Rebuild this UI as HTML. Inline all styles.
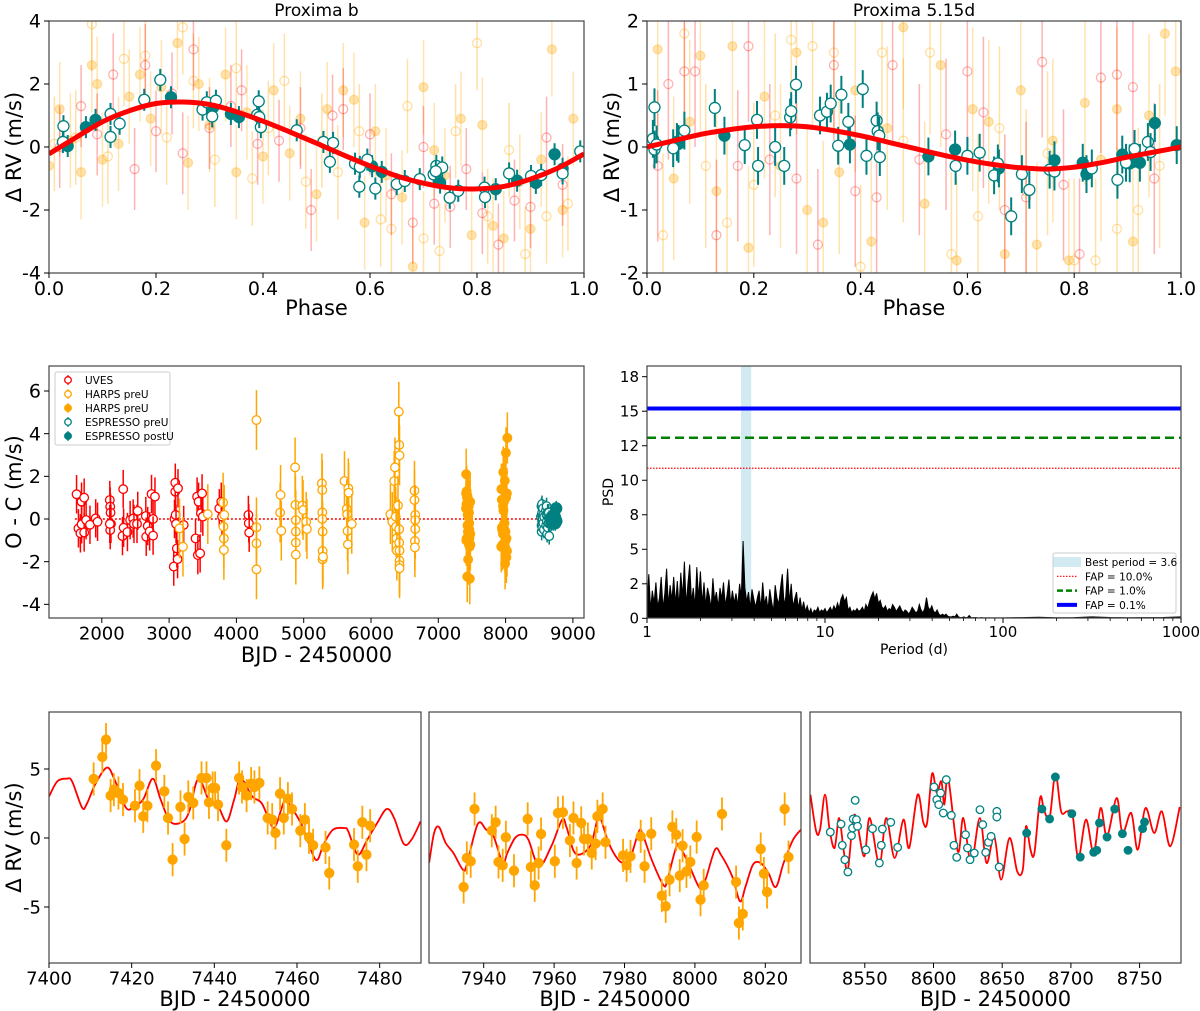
<!DOCTYPE html>
<html><head><meta charset="utf-8"><title>Proxima RV</title>
<style>
html,body{margin:0;padding:0;background:#fff;}
svg{display:block;font-family:"DejaVu Sans","Liberation Sans",sans-serif;}
</style></head>
<body>
<svg id="fig" xmlns="http://www.w3.org/2000/svg" width="1200" height="1011" viewBox="0 0 1200 1011">
<rect x="0" y="0" width="1200" height="1011" fill="#fff"/>
</svg>
<script>
// ---------- DATA ----------
// Proxima b phase-folded model curve (phase grid step 0.05)
const bCurve = [-0.22,0.3,0.8,1.15,1.38,1.43,1.35,1.12,0.82,0.48,0.12,-0.25,-0.6,-0.92,-1.15,-1.3,-1.33,-1.25,-1.02,-0.68,-0.22];
const bTealOpenPh = [0.027,0.026,0.115,0.115,0.132,0.178,0.208,0.287,0.295,0.305,0.312,0.389,0.392,0.396,0.393,0.463,0.513,0.531,0.525,0.572,0.58,0.581,0.595,0.61,0.65,0.665,0.693,0.719,0.724,0.735,0.723,0.749,0.765,0.814,0.815,0.86,0.901,0.92,0.96,0.993];
const bTealOpenV = [0.66,0.16,0.32,1.05,0.74,1.5,2.13,1.19,1.42,0.97,1.47,1.02,1.45,0.63,0.95,0.53,0.16,0.13,-0.47,-0.53,-1.26,-0.63,-0.4,-1.32,-1.18,-1.08,-1.02,-0.87,-0.6,-0.65,-0.77,-1.61,-1.39,-1.29,-1.59,-0.84,-0.92,-0.89,-0.84,-0.14];
const bTealFillPh = [0.035,0.069,0.087,0.228,0.307,0.34,0.355,0.604,0.622,0.731,0.835,0.875,0.91,0.945,0.96];
const bTealFillV = [0.03,0.63,0.86,1.58,1.26,1.05,0.95,-0.61,-0.79,-1.13,-1.34,-1.07,-1.14,-0.23,-0.69];
const bOrFillPh = [0.0,0.02,0.04,0.06,0.08,0.09,0.1,0.13,0.15,0.17,0.19,0.21,0.24,0.26,0.28,0.3,0.33,0.35,0.37,0.4,0.42,0.45,0.47,0.5,0.52,0.55,0.57,0.59,0.61,0.63,0.66,0.68,0.7,0.72,0.74,0.77,0.79,0.81,0.83,0.85,0.88,0.9,0.92,0.94,0.96,0.98];
const bOrFillV = [-0.6,1.2,0.2,-0.8,2.6,2.0,-0.4,0.1,1.6,2.3,0.9,1.9,3.3,-0.5,2.0,0.7,2.3,-0.8,1.1,-0.3,1.8,-0.2,0.9,-1.5,1.2,1.8,1.5,-2.4,0.5,-0.9,-1.6,-3.8,1.9,-0.1,-0.9,0.9,-2.8,0.7,-2.5,-2.9,-1.1,-2.6,-0.4,3.1,-2.0,0.9];
const bOrOpenPh = [0.01,0.05,0.08,0.11,0.14,0.18,0.22,0.25,0.27,0.31,0.35,0.38,0.41,0.44,0.48,0.51,0.54,0.58,0.62,0.64,0.67,0.7,0.73,0.76,0.8,0.82,0.86,0.89,0.93,0.97];
const bOrOpenV = [0.1,0.3,3.9,-0.3,2.8,2.9,0.3,3.8,2.1,-0.4,2.5,-1.0,0.6,2.1,-1.1,0.2,-0.8,0.5,-2.3,-2.6,1.3,-2.9,-3.3,0.5,3.3,-2.2,-0.1,-3.4,-2.2,-1.8];
const bPkOpenPh = [0.02,0.06,0.09,0.12,0.16,0.18,0.2,0.23,0.25,0.27,0.3,0.34,0.36,0.39,0.43,0.47,0.49,0.53,0.55,0.6,0.64,0.68,0.7,0.72,0.75,0.78,0.81,0.84,0.87,0.9,0.93,0.96];
const bPkOpenV = [0.0,1.3,0.4,2.3,-0.7,2.6,0.5,1.7,-0.2,3.1,0.6,1.3,1.8,0.1,0.2,0.6,-2.0,1.0,1.2,0.4,-1.5,-2.4,0.0,-1.8,-1.9,-0.7,-2.1,-3.1,-1.7,-1.9,0.3,-1.2];

// Proxima 5.15d
const cCurve = [0.0,0.1,0.2,0.27,0.32,0.34,0.32,0.26,0.18,0.08,-0.02,-0.12,-0.21,-0.28,-0.33,-0.35,-0.32,-0.25,-0.16,-0.08,0.0];
const cTealOpenPh = [0.014,0.011,0.014,0.018,0.049,0.07,0.127,0.183,0.208,0.206,0.24,0.257,0.268,0.27,0.279,0.324,0.337,0.344,0.358,0.364,0.377,0.404,0.411,0.43,0.432,0.435,0.436,0.578,0.6,0.623,0.65,0.657,0.682,0.702,0.716,0.754,0.763,0.833,0.881,0.897,0.913,0.938,0.943];
const cTealOpenV = [0.63,0.13,-0.04,0.04,-0.02,0.26,0.62,0.03,-0.3,0.43,0.0,-0.3,0.47,0.57,0.99,0.5,0.56,0.69,0.02,0.83,0.4,0.92,-0.14,0.42,0.25,0.18,-0.16,-0.3,-0.14,-0.09,-0.45,-0.26,-1.1,-0.43,-0.68,-0.36,-0.39,-0.34,-0.52,-0.25,-0.03,0.08,-0.08];
const cTealFillPh = [0.056,0.059,0.145,0.38,0.527,0.577,0.659,0.763,0.816,0.823,0.89,0.904,0.923,0.951,0.992];
const cTealFillV = [0.08,0.05,0.18,0.04,-0.15,-0.04,-0.34,-0.21,-0.25,-0.43,-0.12,-0.26,-0.25,0.38,0.03];
const cOrFillPh = [0.02,0.05,0.08,0.1,0.13,0.16,0.19,0.22,0.25,0.28,0.3,0.33,0.36,0.39,0.42,0.45,0.48,0.52,0.55,0.58,0.61,0.64,0.67,0.7,0.73,0.76,0.79,0.82,0.85,0.88,0.91,0.94,0.97,0.99];
const cOrFillV = [1.55,-0.5,0.4,1.45,-0.7,1.6,-1.6,0.8,-0.3,1.5,-1.0,-1.2,-0.4,0.9,-1.5,0.3,1.9,-0.9,1.3,-1.8,0.6,0.4,-1.7,0.9,-1.55,0.1,-1.8,0.7,-0.2,0.6,-1.5,0.5,1.8,1.2];
const cOrOpenPh = [0.03,0.07,0.11,0.15,0.2,0.24,0.27,0.31,0.35,0.4,0.44,0.48,0.53,0.57,0.62,0.66,0.71,0.75,0.8,0.84,0.88,0.92,0.96];
const cOrOpenV = [-1.4,1.8,-0.3,-1.2,-0.6,0.5,1.7,1.6,1.5,-1.9,1.5,0.1,1.5,-1.7,-1.1,0.3,-0.7,-0.1,-1.8,-1.8,-1.3,-1.0,-0.3];
const cPkOpenPh = [0.02,0.04,0.07,0.09,0.13,0.17,0.19,0.23,0.28,0.32,0.35,0.39,0.43,0.46,0.51,0.56,0.6,0.63,0.67,0.71,0.74,0.78,0.81,0.85,0.88,0.91,0.95];
const cPkOpenV = [-0.3,1.0,1.2,1.2,-1.4,-0.3,1.6,-0.2,-0.5,-1.55,1.3,-0.7,-0.8,1.3,-0.2,0.2,1.2,0.55,-1.0,-0.8,1.35,-0.6,-1.7,1.1,1.15,0.95,-0.5];

// O-C residuals vs time
const uvesT = [1625,1653,1682,1699,1700,1738,1738,1767,1824,1909,1937,2119,2125,2130,2136,2125,2119,2307,2318,2324,2381,2421,2466,2478,2523,2534,2654,2660,2682,2711,2739,2762,2762,2790,3069,3080,3092,3092,3097,3103,3115,3126,3132,3217,3393,3416,3427,3438,3461,3473,3490,3501,3746,3775,3786,4178,4184,4190];
const uvesV = [1.16,-0.44,-0.67,0.81,-0.25,1.0,-0.63,-0.05,-0.27,0.03,-0.13,0.89,0.58,0.3,-0.23,-0.52,-0.23,-0.8,1.4,-0.41,-0.61,-0.05,0.02,-0.23,-0.23,0.38,0.14,-0.83,-0.33,-0.58,1.17,0,-0.78,1.05,-2.23,0,1.28,1.7,0.19,-0.23,-1.38,-1.88,1.44,-0.28,-0.91,1.05,-1.69,0.81,-1.61,0.27,1.2,0.11,0.5,0.81,0.11,0.19,-0.2,-0.64];
const hOpenT = [3155,3206,3575,3803,3808,3814,3814,3820,4298,4298,4298,4298,4650,4656,4667,4872,4877,4883,4883,4883,4883,4980,4991,5037,5048,5270,5276,5276,5276,5281,5281,5281,5287,5606,5640,5646,5651,5657,5663,5668,5714,6288,6316,6345,6356,6367,6373,6379,6384,6401,6413,6419,6424,6419,6419,6424,6424,6424,6424,6646,6646,6658,6658,6658,6652,6652];
const hOpenV = [-0.44,-1.3,0.23,0.77,-0.36,-0.91,-1.45,0.19,4.64,-0.39,-1.14,-2.36,0.3,1.13,-0.55,2.42,0.66,-0.05,-0.59,-1.11,-1.67,0.63,0.42,-0.13,-0.47,1.67,1.36,0.31,0,-0.59,-1.5,-1.89,-1.77,1.78,0.47,0.22,-0.56,-1.19,1.44,1.23,-0.23,0.22,-0.13,1.78,2.42,0.11,-0.36,-0.91,-1.48,0.63,5.03,3.47,2.98,-0.48,-1.11,-1.48,-1.95,-2.16,-2.31,1.33,0.89,0.19,-0.05,-0.47,-1.03,-1.33];
const hFillT = [7411,7413,7414,7416,7418,7421,7423,7426,7428,7430,7432,7434,7437,7439,7440,7443,7446,7448,7450,7453,7455,7457,7459,7461,7463,7466,7468,7474,7475,7477,7935,7937,7943,7945,7948,7952,7955,7960,7962,7965,7968,7971,7974,7980,7985,7988,7991,7992,7994,7996,7998,8001,8005,8008,8012,8013,8019,8021,8026,7982];
const hFillV = [0.5,1.2,2.1,-1.0,0.7,1.3,-0.9,1.0,0.5,-2.7,1.1,-0.3,0.2,0.8,-0.6,-1.9,0.1,-0.4,0.9,0.6,-1.2,0.3,-0.2,-0.5,-0.9,-1.3,-2.8,0.8,-0.7,-1.2,-1.3,1.4,0.9,-0.4,-0.5,1.4,-1.2,-0.7,0.6,2.2,0.4,-0.5,0.8,-0.2,-0.5,1.8,-1.3,-2.1,1.0,-1.7,-0.6,-1.0,3.1,1.0,-1.8,-0.9,1.2,-1.5,3.8,-0.2];
const eOpenT = [8525,8533,8534,8536,8538,8541,8542,8543,8545,8551,8556,8561,8563,8569,8574,8600,8603,8607,8609,8613,8617,8624,8627,8634,8638,8642,8646,8648];
const eOpenV = [0.1,0.6,-0.3,-0.6,0.2,0.7,-0.1,0.3,-0.4,0.0,0.5,-0.2,0.2,-0.5,0.1,0.4,-0.3,0.2,0.6,-0.1,-0.7,0.3,-0.4,0.1,-0.2,0.3,0.0,-0.8];
const eFillT = [8668,8679,8685,8689,8701,8707,8717,8721,8726,8732,8738,8742,8752,8754];
const eFillV = [0.0,-0.2,0.1,0.0,-0.1,-0.2,-0.1,0.2,-0.1,0.1,-0.2,0.0,0.5,-0.1];

// Periodogram: PSD sampled at log10(P) = 0.00..1.99 step 0.01, then 2.0..3.0 step 0.1
const psdA = [1.2,3.2,0.6,2.0,1.1,2.6,0.8,1.5,3.0,0.7,1.8,3.6,0.9,2.4,1.3,3.0,1.0,2.7,0.8,3.3,1.5,4.1,0.9,2.5,3.9,1.2,2.2,0.8,3.7,1.4,3.4,1.0,2.6,0.9,2.2,1.6,0.7,2.9,1.3,1.9,0.8,2.2,1.4,2.6,0.9,1.7,2.8,1.0,2.0,1.1,1.8,0.9,2.5,1.5,5.6,2.2,1.2,1.9,0.7,2.1,1.4,0.8,1.5,2.0,0.7,2.6,1.0,1.6,0.6,2.1,1.2,0.5,2.4,1.5,1.0,2.2,3.2,0.9,1.6,3.6,1.1,2.5,0.8,1.4,1.9,0.7,1.5,0.6,1.2,0.5,0.9,0.4,0.7,0.3,0.6,0.5,0.8,0.4,0.6,0.5,0.7,0.4,0.6,0.8,0.5,0.9,0.6,1.1,0.7,1.4,1.7,1.2,1.5,0.6,0.8,0.4,0.6,0.5,0.7,0.5,0.6,0.8,0.5,1.0,0.7,1.2,1.6,1.9,1.4,1.8,1.1,1.3,0.8,0.7,0.9,0.5,0.7,0.6,1.0,0.8,0.5,0.7,0.9,0.6,0.4,0.6,0.5,0.3,0.5,0.8,0.6,0.4,0.5,1.0,0.6,0.4,0.7,1.5,0.8,0.6,0.9,0.5,0.4,0.6,0.3,0.2,0.3,0.2,0.3,0.15,0.1,0.1,0.15,0.1,0.3,0.1,0.05,0.05,0.1,0.05,0.05,0.2,0.05,0.05,0.05,0.05,0.03,0.03,0.05,0.03,0.03,0.03,0.04,0.03,0.03,0.03,0.03,0.03,0.03,0.03];
const psdB = [0.03,0.05,0.08,0.04,0.05,0.1,0.06,0.04,0.05,0.06,0.1];
const bestPeriod = [3.37,3.85];
const fapLevels = [10.87,13.08,15.2];
const psdTicks = [0,2.5,5,7.5,10,12.5,15,17.5];
const psdTickLabels = ["0","2","5","8","10","12","15","18"];

// Time-series zoom panels
const aCurveT = [7400,7402,7404.3,7405.6,7408,7409.2,7411.2,7414,7415.9,7418.6,7420.5,7422.8,7425.1,7427,7429.3,7432.1,7433.9,7436.1,7438.6,7440.9,7443,7444.8,7446.4,7449.2,7451.5,7453.9,7455,7457.1,7458.5,7461.3,7464.5,7466.4,7468.7,7471.5,7472.4,7474.7,7477,7479.4,7481.7,7483.5,7485.8,7487.7,7489.9];
const aCurveV = [3.0,4.1,4.3,4.1,2.2,2.5,3.9,5.1,4.2,2.2,2.25,2.8,4.3,2.8,1.2,1.14,1.9,4.3,2.8,2.3,1.2,2.8,4.3,3.0,2.5,0.85,0.97,2.8,2.3,0.85,-1.57,-0.48,0.6,0.72,0.48,-1.2,-0.12,1.09,2.1,1.45,-0.41,-0.12,1.2];
const aT = [7410.8,7412.9,7413.8,7414.9,7415.7,7416.8,7417.9,7420.8,7421.9,7422.8,7423.8,7425.9,7427.9,7428.8,7429.9,7431.8,7432.8,7433.7,7434.9,7436.9,7438.1,7438.7,7439.6,7440.2,7440.9,7442.9,7446,7446.7,7447.8,7448.9,7449.7,7450.9,7452.9,7454,7454.8,7455.9,7456.8,7457.8,7458.8,7460.8,7461.9,7462.9,7463.9,7466.9,7467.8,7473.8,7474.7,7475.8,7476.8,7477.7];
const aV = [4.28,5.87,7.13,3.07,3.5,3.26,2.78,2.34,3.79,1.57,2.34,5.24,3.38,1.45,-1.57,2.25,-0.07,2.97,2.54,4.35,4.35,2.58,3.62,3.62,2.42,-0.53,4.35,3.7,3.07,3.94,3.7,3.99,1.45,1.33,0.36,3.21,1.45,2.85,2.1,0.53,1.33,0.05,-0.53,-0.68,-2.54,-0.48,-2.05,1.14,-1.21,0.89];
const bpCurveT = [7924.5,7925.9,7927.3,7929.2,7931.4,7934.1,7935.2,7938.3,7940.7,7942.8,7945.4,7946.7,7948.9,7951,7952.7,7955.7,7959.2,7962.3,7963.6,7966.1,7970.2,7972.3,7973.3,7975.5,7978.2,7980,7981.4,7984.1,7985.2,7987.9,7991.1,7992.2,7994.9,7996.5,7998.7,8001.4,8003,8005.7,8007.4,8010.6,8012.8,8014.4,8016.5,8018.7,8020.9,8023,8025.2,8027.9,8030.1];
const bpCurveV = [-1.8,0.36,0.8,-0.36,-1.09,-2.3,-1.93,1.01,0.6,0.12,-1.81,-1.09,0,0.24,-0.12,-2.05,-0.6,1.33,0.72,-1.14,-0.6,1.33,1.33,-0.36,-1.57,-1.81,-1.69,0.48,0.24,-1.69,-3.43,-3.02,-0.53,-0.97,-2.17,-3.62,-3.02,-0.85,-1.21,-2.78,-4.59,-3.5,-1.93,-1.81,-2.54,-3.55,-1.81,-0.12,0.6];
const bpT = [7934.3,7935.2,7936.3,7937.4,7942.3,7943.4,7944.2,7945.4,7946.3,7948.6,7952.5,7953.4,7954.5,7955.6,7956.3,7960.2,7961.1,7962.5,7964.5,7965.5,7966.4,7967.7,7968.5,7969.6,7970.7,7971.8,7972.3,7973.8,7974.6,7979.6,7980.6,7981.7,7984.6,7985.7,7987.6,7990.6,7991.7,7992.8,7993.6,7994.7,7995.7,7996.5,7997.6,7998.7,8000.5,8001.6,8002.5,8007.7,8011.7,8012.5,8013.6,8018.7,8019.6,8020.5,8025.5,8026.6];
const bpV = [-3.55,-1.45,-1.69,2.1,0.53,1.14,-1.74,-1.98,0.05,-2.37,1.38,-2.1,-3.43,-1.81,0.29,-1.69,1.81,1.86,-0.17,1.45,-1.81,1.09,-0.07,-0.07,-1.09,-0.41,1.57,2.1,-0.31,-1.26,-1.98,-1.33,0.12,-2.05,0.31,-4.18,-4.95,-3.02,0.8,0.24,-2.73,-0.56,-2.42,-1.74,0.07,-4.47,-3.43,1.74,-3.19,-6.16,-5.5,-0.8,-2.58,-3.91,2.1,-1.38];
const ccCurveT = [8510.4,8514.6,8517.4,8521,8524.4,8528,8531.3,8534.7,8537.7,8542.5,8549.4,8553.6,8560.6,8565.6,8571.7,8578.1,8582.3,8588.4,8592.6,8595.4,8599,8602.4,8605.7,8607.9,8610.7,8617.7,8621.7,8627.4,8633.7,8638.6,8644.2,8649.2,8655.3,8660.9,8665,8667.3,8670.6,8673.4,8677.6,8680.4,8684.5,8688.7,8692.9,8697.1,8701.2,8705.4,8711,8716.6,8721.6,8726.3,8733.3,8737.5,8743.9,8748.6,8754.2,8760.6,8766.2,8772.3,8779.2];
const ccCurveV = [3.14,0.48,0.6,3.14,0.6,-0.72,1.45,-0.97,-2.29,1.69,-1.33,1.45,-1.93,1.45,-1.45,1.33,-0.72,3.14,1.14,1.14,4.66,3.26,4.11,2.42,4.35,-0.97,1.45,-1.81,1.45,-1.81,0.12,-3.02,0,-2.42,-2.29,0.85,-0.85,-1.09,2.9,2.05,1.45,4.66,1.93,1.93,1.69,-1.45,1.33,-1.09,2.17,0.12,2.9,0.36,1.81,-0.85,2.17,0.36,1.93,-0.6,2.25];
const ccOpenT = [8524.9,8532.7,8533.6,8535.5,8537.7,8540.3,8541.1,8541.6,8543,8543.9,8544.7,8550.8,8555.6,8560.6,8562,8562.8,8568.9,8573.9,8600.4,8602.4,8603.8,8605.2,8607.1,8609.3,8613,8614.9,8616.9,8623.3,8624.7,8626.6,8629.7,8633.8,8635.8,8638,8640,8641.9,8646.1,8646.1,8647.8];
const ccOpenV = [0.43,1.01,-0.53,-1.57,-2.46,0.17,0.72,1.38,2.73,1.33,0.85,-0.85,0.68,-1.81,-0.53,0.65,1.14,-0.68,3.7,2.78,2.42,3.26,1.81,4.23,1.64,-0.53,-1.4,0.24,-0.72,-1.57,-1.09,2.05,0.97,-1.04,-0.31,0.12,1.93,1.52,-2.1];
const ccFillT = [8667.8,8678.9,8684.5,8688.7,8700.7,8706.8,8716.6,8718.8,8720.8,8726.3,8731.9,8737.5,8741.6,8752.2,8753.6];
const ccFillV = [0.36,2.1,1.38,4.42,1.76,-1.38,-1.04,-0.89,1.09,0.07,2.1,0.31,-0.89,0.68,1.16];

// ---------- DRAWING ----------
const NS = "http://www.w3.org/2000/svg";
const svg = document.getElementById('fig');
const TEAL = "#008080", ORANGE = "#ffa500", RED = "#ff0000";
function mk(tag, attrs, parent) {
  const e = document.createElementNS(NS, tag);
  for (const k in attrs) e.setAttribute(k, attrs[k]);
  (parent || svg).appendChild(e);
  return e;
}
function lin(d0, d1, p0, p1) { return v => p0 + (v - d0) / (d1 - d0) * (p1 - p0); }
function smoothPath(pts) {
  let d = "M" + pts[0][0].toFixed(1) + "," + pts[0][1].toFixed(1);
  for (let i = 0; i < pts.length - 1; i++) {
    const p0 = pts[Math.max(0, i - 1)], p1 = pts[i], p2 = pts[i + 1], p3 = pts[Math.min(pts.length - 1, i + 2)];
    const c1x = p1[0] + (p2[0] - p0[0]) / 6, c1y = p1[1] + (p2[1] - p0[1]) / 6;
    const c2x = p2[0] - (p3[0] - p1[0]) / 6, c2y = p2[1] - (p3[1] - p1[1]) / 6;
    d += "C" + c1x.toFixed(1) + "," + c1y.toFixed(1) + " " + c2x.toFixed(1) + "," + c2y.toFixed(1) + " " + p2[0].toFixed(1) + "," + p2[1].toFixed(1);
  }
  return d;
}
function clip(id, x0, y0, x1, y1) {
  const c = mk('clipPath', { id: id });
  const r = mk('rect', { x: x0, y: y0, width: x1 - x0, height: y1 - y0 }, c);
  
  
}
function frame(P, name) {
  const r = mk('rect', { x: P.x0, y: P.y0, width: P.x1 - P.x0, height: P.y1 - P.y0, fill: 'none', stroke: '#444', 'stroke-width': 1.2 });
  
  
}
function text(x, y, s, size, anchor, name, rot) {
  const t = mk('text', { x: x, y: y, 'font-size': size, 'text-anchor': anchor || 'middle', fill: '#000' });
  if (rot) t.setAttribute('transform', 'rotate(-90 ' + x + ' ' + y + ')');
  t.textContent = s;
  
  
  return t;
}
function xticks(P, sx, vals, labels, size, name) {
  vals.forEach((v, i) => {
    const x = sx(v);
    const l = mk('line', { x1: x, x2: x, y1: P.y1, y2: P.y1 + 5, stroke: '#000', 'stroke-width': 1 });
    
    
    if (labels) text(x, P.y1 + 6 + size * 0.85, labels[i], size, 'middle', name + '-tick-label');
  });
}
function yticks(P, sy, vals, labels, size, name) {
  vals.forEach((v, i) => {
    const y = sy(v);
    const l = mk('line', { x1: P.x0 - 5, x2: P.x0, y1: y, y2: y, stroke: '#000', 'stroke-width': 1 });
    
    
    if (labels) text(P.x0 - 8, y + size * 0.35, labels[i], size, 'end', name + '-tick-label');
  });
}
function point(g, x, y, errPx, color, filled, r, op, sw) {
  const ln = mk('line', { x1: x, x2: x, y1: y - errPx, y2: y + errPx, stroke: color, 'stroke-width': sw || 1.5, 'stroke-opacity': op }, g);
  
  
  const c = mk('circle', { cx: x, cy: y, r: r, fill: filled ? color : '#fff', 'fill-opacity': filled ? op : (op < 1 ? 0 : 1), stroke: color, 'stroke-opacity': op, 'stroke-width': 1.3 }, g);
  
  
}
function series(P, sx, sy, xs, ys, err, color, filled, r, op, name, sw) {
  const g = mk('g', { 'clip-path': 'url(#' + P.id + ')' });
  
  
  const ep = Math.abs(sy(err) - sy(0));
  xs.forEach((x, i) => point(g, sx(x), sy(ys[i]), ep, color, filled, r, op, sw));
}
function curve(P, sx, sy, xs, ys, color, w, name) {
  const pts = xs.map((x, i) => [sx(x), sy(ys[i])]);
  const p = mk('path', { d: smoothPath(pts), fill: 'none', stroke: color, 'stroke-width': w, 'clip-path': 'url(#' + P.id + ')', 'stroke-linejoin': 'round' });
  
  
}
const phaseGrid = bCurve.map((_, i) => i * 0.05);

// ---- Panel 1: Proxima b ----
(function () {
  const P = { id: 'c1', x0: 49, x1: 584, y0: 21, y1: 273 };
  clip(P.id, P.x0, P.y0, P.x1, P.y1);
  const sx = lin(0, 1, P.x0, P.x1), sy = lin(-4, 4, P.y1, P.y0);
  series(P, sx, sy, bOrFillPh, bOrFillV, 1.5, ORANGE, true, 4.5, 0.3, 'harps-postu-faint');
  series(P, sx, sy, bOrOpenPh, bOrOpenV, 1.5, ORANGE, false, 4.5, 0.35, 'harps-preu-faint');
  series(P, sx, sy, bPkOpenPh, bPkOpenV, 1.3, RED, false, 4.5, 0.3, 'uves-faint');
  series(P, sx, sy, bTealFillPh, bTealFillV, 0.35, TEAL, true, 5.5, 1, 'espresso-postu', 2);
  series(P, sx, sy, bTealOpenPh, bTealOpenV, 0.35, TEAL, false, 5.5, 1, 'espresso-preu', 2);
  curve(P, sx, sy, phaseGrid, bCurve, RED, 5, 'model-curve-b');
  frame(P, 'panel-proxima-b');
  xticks(P, sx, [0, 0.2, 0.4, 0.6, 0.8, 1.0], ["0.0", "0.2", "0.4", "0.6", "0.8", "1.0"], 19, 'x-axis-b');
  yticks(P, sy, [-4, -2, 0, 2, 4], ["-4", "-2", "0", "2", "4"], 19, 'y-axis-b');
  text((P.x0 + P.x1) / 2, 16, 'Proxima b', 17, 'middle', 'title-proxima-b');
  text((P.x0 + P.x1) / 2, 315, 'Phase', 21, 'middle', 'x-axis-title-b');
  text(21, (P.y0 + P.y1) / 2, 'Δ RV (m/s)', 21, 'middle', 'y-axis-title-b', true);
})();

// ---- Panel 2: Proxima 5.15d ----
(function () {
  const P = { id: 'c2', x0: 647, x1: 1181, y0: 21, y1: 273 };
  clip(P.id, P.x0, P.y0, P.x1, P.y1);
  const sx = lin(0, 1, P.x0, P.x1), sy = lin(-2, 2, P.y1, P.y0);
  series(P, sx, sy, cOrFillPh, cOrFillV, 1.3, ORANGE, true, 4.5, 0.3, 'harps-postu-faint');
  series(P, sx, sy, cOrOpenPh, cOrOpenV, 1.3, ORANGE, false, 4.5, 0.35, 'harps-preu-faint');
  series(P, sx, sy, cPkOpenPh, cPkOpenV, 1.2, RED, false, 4.5, 0.3, 'uves-faint');
  series(P, sx, sy, cTealFillPh, cTealFillV, 0.3, TEAL, true, 5.5, 1, 'espresso-postu', 2);
  series(P, sx, sy, cTealOpenPh, cTealOpenV, 0.3, TEAL, false, 5.5, 1, 'espresso-preu', 2);
  curve(P, sx, sy, phaseGrid, cCurve, RED, 5, 'model-curve-515d');
  frame(P, 'panel-proxima-515d');
  xticks(P, sx, [0, 0.2, 0.4, 0.6, 0.8, 1.0], ["0.0", "0.2", "0.4", "0.6", "0.8", "1.0"], 19, 'x-axis-515d');
  yticks(P, sy, [-2, -1, 0, 1, 2], ["-2", "-1", "0", "1", "2"], 19, 'y-axis-515d');
  text((P.x0 + P.x1) / 2, 16, 'Proxima 5.15d', 17, 'middle', 'title-proxima-515d');
  text((P.x0 + P.x1) / 2, 315, 'Phase', 21, 'middle', 'x-axis-title-515d');
  text(619, (P.y0 + P.y1) / 2, 'Δ RV (m/s)', 21, 'middle', 'y-axis-title-515d', true);
})();

// ---- Panel 3: O-C ----
(function () {
  const P = { id: 'c3', x0: 49, x1: 584, y0: 366, y1: 618 };
  clip(P.id, P.x0, P.y0, P.x1, P.y1);
  const sx = lin(2000, 9000, 101.8, 572.9), sy = lin(0, 6, 519, 391);
  const dl = mk('line', { x1: sx(1600), x2: sx(8600), y1: sy(0), y2: sy(0), stroke: RED, 'stroke-width': 1.5, 'stroke-dasharray': '2,2' });
  
  
  series(P, sx, sy, uvesT, uvesV, 0.9, RED, false, 4.3, 1, 'uves-residuals');
  series(P, sx, sy, hOpenT, hOpenV, 1.4, ORANGE, false, 4.3, 1, 'harps-preu-residuals');
  series(P, sx, sy, hFillT, hFillV, 1.2, ORANGE, true, 4.3, 1, 'harps-postu-residuals');
  series(P, sx, sy, eOpenT, eOpenV, 0.4, TEAL, false, 4.3, 1, 'espresso-preu-residuals');
  series(P, sx, sy, eFillT, eFillV, 0.35, TEAL, true, 5.5, 1, 'espresso-postu-residuals');
  frame(P, 'panel-oc');
  xticks(P, sx, [2000, 3000, 4000, 5000, 6000, 7000, 8000, 9000], ["2000", "3000", "4000", "5000", "6000", "7000", "8000", "9000"], 18, 'x-axis-oc');
  yticks(P, sy, [-4, -2, 0, 2, 4, 6], ["-4", "-2", "0", "2", "4", "6"], 19, 'y-axis-oc');
  text((P.x0 + P.x1) / 2, 662, 'BJD - 2450000', 21, 'middle', 'x-axis-title-oc');
  text(21, (P.y0 + P.y1) / 2, 'O - C (m/s)', 21, 'middle', 'y-axis-title-oc', true);
  // legend
  const lg = mk('g', {});
  
  
  const lb = mk('rect', { x: 55, y: 372, width: 115, height: 73, fill: '#fff', stroke: '#ccc', rx: 2 }, lg);
  
  
  const ents = [['UVES', RED, false], ['HARPS preU', ORANGE, false], ['HARPS preU', ORANGE, true], ['ESPRESSO preU', TEAL, false], ['ESPRESSO postU', TEAL, true]];
  ents.forEach((e, i) => {
    const y = 380 + i * 14;
    point(lg, 68, y, 5, e[1], e[2], 3.3, 1, 1.2);
    const t = mk('text', { x: 85, y: y + 4, 'font-size': 10.5, fill: '#000' }, lg);
    t.textContent = e[0];
    
    
  });
})();

// ---- Panel 4: periodogram ----
(function () {
  const P = { id: 'c4', x0: 647, x1: 1181, y0: 366, y1: 618 };
  clip(P.id, P.x0, P.y0, P.x1, P.y1);
  const lx = lin(0, 3, P.x0, P.x1);
  const sx = p => lx(Math.log10(p));
  const sy = lin(0, 17.5, 618.3, 376.7);
  const band = mk('rect', { x: sx(bestPeriod[0]), y: P.y0, width: sx(bestPeriod[1]) - sx(bestPeriod[0]), height: P.y1 - P.y0, fill: '#add8e6', 'fill-opacity': 0.55 });
  
  
  let pts = [];
  psdA.forEach((v, i) => pts.push([lx(i * 0.01), sy(v)]));
  psdB.forEach((v, i) => pts.push([lx(2 + i * 0.1), sy(v)]));
  const poly = mk('polygon', { points: pts.map(p => p[0].toFixed(1) + ',' + p[1].toFixed(1)).join(' ') + ' ' + P.x1 + ',' + sy(0) + ' ' + P.x0 + ',' + sy(0), fill: '#000', stroke: '#000', 'stroke-width': 1, 'clip-path': 'url(#c4)' });
  
  
  const styles = [[RED, 1.2, '1.5,1.5', 'fap-10-line'], ['#008000', 2.5, '9,5', 'fap-1-line'], ['#0000ff', 4, '', 'fap-01-line']];
  fapLevels.forEach((v, i) => {
    const l = mk('line', { x1: P.x0, x2: P.x1, y1: sy(v), y2: sy(v), stroke: styles[i][0], 'stroke-width': styles[i][1], 'stroke-dasharray': styles[i][2] });
    
    
  });
  frame(P, 'panel-periodogram');
  xticks(P, sx, [1, 10, 100, 1000], ["1", "10", "100", "1000"], 15, 'x-axis-psd');
  [2,3,4,5,6,7,8,9,20,30,40,50,60,70,80,90,200,300,400,500,600,700,800,900].forEach(v => {
    const l = mk('line', { x1: sx(v), x2: sx(v), y1: P.y1, y2: P.y1 + 3, stroke: '#000', 'stroke-width': 0.8 });
    
    
  });
  yticks(P, sy, psdTicks, psdTickLabels, 15, 'y-axis-psd');
  text((P.x0 + P.x1) / 2, 654, 'Period (d)', 14, 'middle', 'x-axis-title-psd');
  text(613, (P.y0 + P.y1) / 2, 'PSD', 14, 'middle', 'y-axis-title-psd', true);
  const lg = mk('g', {});
  
  
  const lb = mk('rect', { x: 1053, y: 553, width: 123, height: 60, fill: '#fff', stroke: '#ccc', rx: 2 }, lg);
  
  
  const sw = mk('rect', { x: 1053, y: 557, width: 28, height: 10, fill: '#add8e6', 'fill-opacity': 0.55 }, lg);
  
  
  const labs = ['Best period =  3.6', 'FAP = 10.0%', 'FAP =  1.0%', 'FAP =  0.1%'];
  labs.forEach((s, i) => {
    const y = 562 + i * 14.3;
    if (i > 0) {
      const l = mk('line', { x1: 1057, x2: 1077, y1: y, y2: y, stroke: styles[i - 1][0], 'stroke-width': styles[i - 1][1], 'stroke-dasharray': i === 2 ? '6,3' : styles[i - 1][2] }, lg);
      
      
    }
    const t = mk('text', { x: 1085, y: y + 4, 'font-size': 10.5, fill: '#000' }, lg);
    t.textContent = s;
    
    
  });
})();

// ---- Bottom panels ----
const ySh = lin(-5, 5, 907, 769);
(function () {
  const P = { id: 'c5', x0: 49, x1: 421, y0: 712, y1: 963 };
  clip(P.id, P.x0, P.y0, P.x1, P.y1);
  const sx = lin(7400, 7490, P.x0, P.x1);
  curve(P, sx, ySh, aCurveT, aCurveV, RED, 1.8, 'model-curve-2016');
  series(P, sx, ySh, aT, aV, 1.2, ORANGE, true, 4.5, 1, 'harps-2016-points', 1.8);
  frame(P, 'panel-2016');
  xticks(P, sx, [7400, 7420, 7440, 7460, 7480], ["7400", "7420", "7440", "7460", "7480"], 18, 'x-axis-2016');
  yticks(P, ySh, [-5, 0, 5], ["-5", "0", "5"], 18, 'y-axis-2016');
  text((P.x0 + P.x1) / 2, 1006, 'BJD - 2450000', 21, 'middle', 'x-axis-title-2016');
  text(21, (P.y0 + P.y1) / 2, 'Δ RV (m/s)', 21, 'middle', 'y-axis-title-bottom', true);
})();
(function () {
  const P = { id: 'c6', x0: 429, x1: 801, y0: 712, y1: 963 };
  clip(P.id, P.x0, P.y0, P.x1, P.y1);
  const sx = lin(7940, 8020, 483.7, 765.3);
  curve(P, sx, ySh, bpCurveT, bpCurveV, RED, 1.8, 'model-curve-2017');
  series(P, sx, ySh, bpT, bpV, 1.2, ORANGE, true, 4.5, 1, 'harps-2017-points', 1.8);
  frame(P, 'panel-2017');
  xticks(P, sx, [7940, 7960, 7980, 8000, 8020], ["7940", "7960", "7980", "8000", "8020"], 18, 'x-axis-2017');
  text((P.x0 + P.x1) / 2, 1006, 'BJD - 2450000', 21, 'middle', 'x-axis-title-2017');
})();
(function () {
  const P = { id: 'c7', x0: 810, x1: 1181, y0: 712, y1: 963 };
  clip(P.id, P.x0, P.y0, P.x1, P.y1);
  const sx = lin(8550, 8750, 864.8, 1139.6);
  curve(P, sx, ySh, ccCurveT, ccCurveV, RED, 1.8, 'model-curve-2019');
  series(P, sx, ySh, ccOpenT, ccOpenV, 0.3, TEAL, false, 3.8, 1, 'espresso-preu-points', 1.3);
  series(P, sx, ySh, ccFillT, ccFillV, 0.3, TEAL, true, 3.8, 1, 'espresso-postu-points', 1.3);
  frame(P, 'panel-2019');
  xticks(P, sx, [8550, 8600, 8650, 8700, 8750], ["8550", "8600", "8650", "8700", "8750"], 18, 'x-axis-2019');
  text((P.x0 + P.x1) / 2, 1006, 'BJD - 2450000', 21, 'middle', 'x-axis-title-2019');
})();
</script>
</body></html>
